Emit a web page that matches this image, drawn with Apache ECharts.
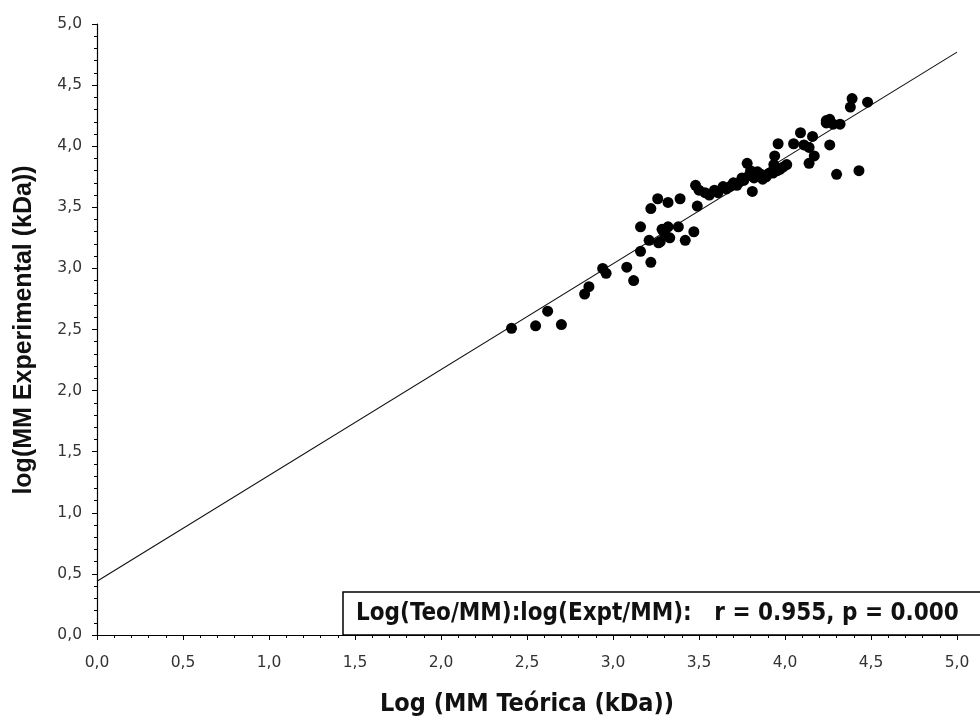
<!DOCTYPE html>
<html>
<head>
<meta charset="utf-8">
<title>log MM teórica vs experimental</title>
<script src="https://cdn.jsdelivr.net/npm/echarts@6/dist/echarts.min.js"></script>
<style>
  html, body { margin: 0; padding: 0; background: #fff; }
  #chart { width: 980px; height: 722px; }
</style>
</head>
<body>
<div id="chart"></div>
<script>
// log10 of theoretical molecular mass (kDa)
const teoLog = [
  2.41, 2.55, 2.70, 2.62, 2.835, 2.86, 2.94, 2.96, 3.08, 3.12,
  3.16, 3.22, 3.21, 3.265, 3.16, 3.22, 3.26, 3.32, 3.39, 3.285,
  3.32, 3.33, 3.38, 3.42, 3.30, 3.47, 3.275, 3.49,
  3.48, 3.50, 3.535, 3.56, 3.59, 3.61, 3.64, 3.66, 3.68, 3.70,
  3.72, 3.73, 3.75, 3.76, 3.78, 3.81, 3.79, 3.82, 3.84, 3.86,
  3.89, 3.91, 3.93, 3.935, 3.94, 3.955, 3.97, 3.99, 4.01, 3.96,
  3.80, 3.87,
  4.05, 4.09, 4.11, 4.14, 4.16, 4.17, 4.14, 4.26, 4.24, 4.26,
  4.28, 4.32, 4.30, 4.43, 4.38, 4.39, 4.48, 4.24
];
// log10 of experimental molecular mass (kDa)
const exptLog = [
  2.51, 2.53, 2.54, 2.65, 2.79, 2.85, 3.00, 2.96, 3.01, 2.90,
  3.14, 3.05, 3.23, 3.21, 3.34, 3.49, 3.57, 3.54, 3.57, 3.32,
  3.34, 3.25, 3.34, 3.23, 3.29, 3.30, 3.22, 3.51,
  3.68, 3.64, 3.62, 3.60, 3.64, 3.62, 3.67, 3.65, 3.67, 3.70,
  3.68, 3.70, 3.74, 3.72, 3.86, 3.63, 3.76, 3.74, 3.79, 3.77,
  3.75, 3.78, 3.78, 3.85, 3.92, 3.80, 3.81, 3.83, 3.85, 4.02,
  3.80, 3.73,
  4.02, 4.11, 4.01, 3.99, 4.08, 3.92, 3.86, 4.01, 4.19, 4.22,
  4.18, 4.18, 3.77, 3.80, 4.32, 4.39, 4.36, 4.21
];
// fitted regression line end points
const fitX = [0, 5];
const fitY = [0.44, 4.77];
// correlation summary
const corrR = '0.955';
const corrP = '0.000';
// axis tick values
const axisMin = 0;
const axisMax = 5;
const axisStep = 0.5;

const points = teoLog.map((x, i) => [x, exptLog[i]]);
const fitLine = fitX.map((x, i) => [x, fitY[i]]);

const commaFmt = v => v.toFixed(1).replace('.', ',');
const labelFont = { fontFamily: 'DejaVu Sans', fontSize: 15.5, color: '#333' };
const narrowFont = '"Liberation Sans Narrow", "DejaVu Sans Condensed", sans-serif';

const axisCommon = {
  type: 'value',
  min: axisMin,
  max: axisMax,
  interval: axisStep,
  axisLine: { show: true, onZero: false, lineStyle: { color: '#000', width: 1.2 } },
  axisTick: { show: true, inside: false, length: 5, lineStyle: { color: '#000', width: 1 } },
  minorTick: { show: true, splitNumber: 5, length: 3, lineStyle: { color: '#000', width: 1 } },
  splitLine: { show: false },
  minorSplitLine: { show: false }
};

const chart = echarts.init(document.getElementById('chart'), null, { renderer: 'canvas' });
chart.setOption({
  animation: false,
  backgroundColor: '#ffffff',
  grid: { left: 97, right: 23, top: 24, bottom: 87, containLabel: false },
  xAxis: Object.assign({}, axisCommon, {
    axisLabel: Object.assign({ formatter: commaFmt, margin: 20 }, labelFont)
  }),
  yAxis: Object.assign({}, axisCommon, {
    axisLabel: Object.assign({ formatter: commaFmt, margin: 15 }, labelFont)
  }),
  series: [
    {
      name: 'Ajuste',
      type: 'line',
      data: fitLine,
      symbol: 'none',
      silent: true,
      lineStyle: { color: '#111', width: 1.1 },
      z: 2
    },
    {
      name: 'Proteínas',
      type: 'scatter',
      data: points,
      symbol: 'circle',
      symbolSize: 11,
      itemStyle: { color: '#000', opacity: 1 },
      z: 3
    }
  ],
  graphic: [
    {
      type: 'text',
      x: 24,
      y: 330,
      rotation: Math.PI / 2,
      style: {
        text: 'log(MM Experimental (kDa))',
        font: 'bold 25px "Liberation Sans", Arial, sans-serif',
        fill: '#111',
        textAlign: 'center',
        textVerticalAlign: 'middle'
      }
    },
    {
      type: 'text',
      x: 527,
      y: 704,
      style: {
        text: 'Log (MM Teórica (kDa))',
        font: 'bold 25px ' + narrowFont,
        fill: '#111',
        textAlign: 'center',
        textVerticalAlign: 'middle'
      }
    },
    {
      type: 'rect',
      shape: { x: 343, y: 592, width: 660, height: 43 },
      style: { fill: '#fff', stroke: '#000', lineWidth: 1.5 },
      z: 10
    },
    {
      type: 'text',
      x: 356,
      y: 614,
      z: 11,
      style: {
        text: 'Log(Teo/MM):log(Expt/MM):   r = ' + corrR + ', p = ' + corrP,
        font: 'bold 24px ' + narrowFont,
        fill: '#111',
        textAlign: 'left',
        textVerticalAlign: 'middle'
      }
    }
  ]
});
</script>
</body>
</html>
